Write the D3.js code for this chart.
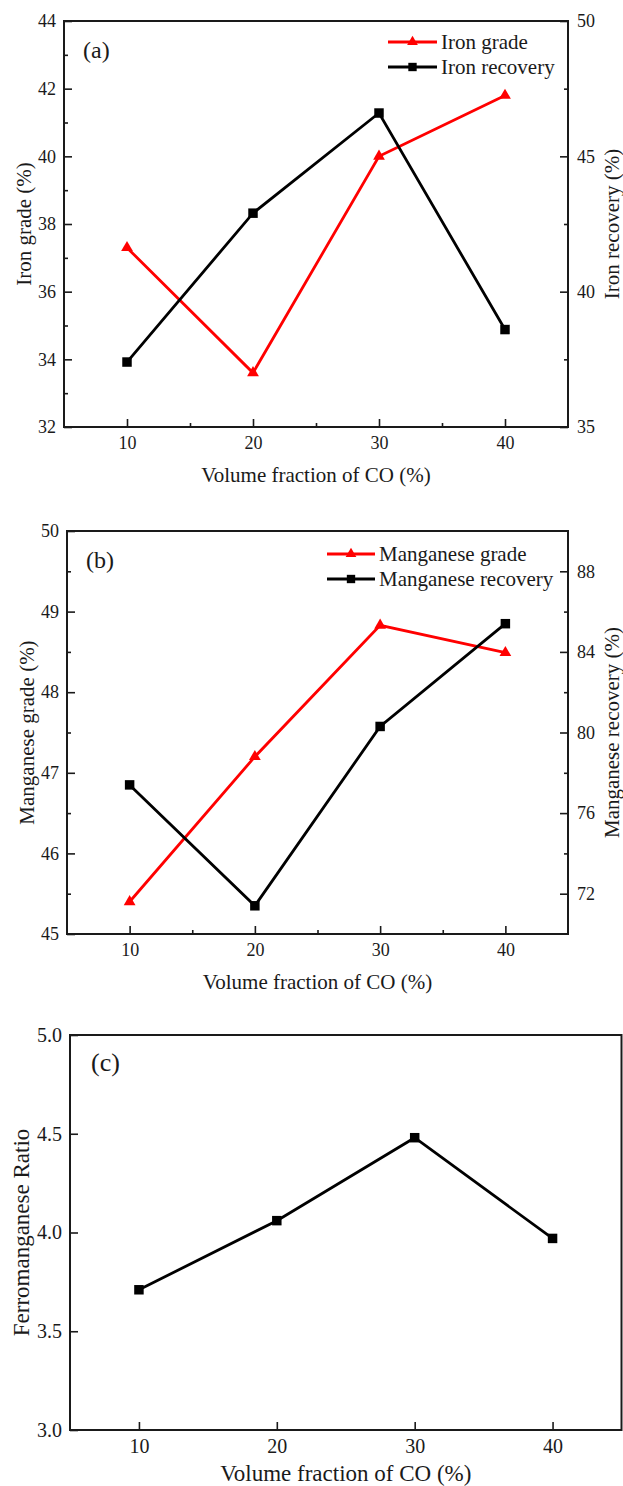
<!DOCTYPE html>
<html>
<head>
<meta charset="utf-8">
<script src="https://cdn.jsdelivr.net/npm/d3@7"></script>
<style>
  html, body { margin: 0; padding: 0; background: #fff; }
  svg { display: block; }
  text { font-family: "Liberation Serif", "Times New Roman", serif; fill: #1a1a1a; }
</style>
</head>
<body>
<script>
// CO volume fraction (x) shared by all three panels
const coFraction = [10, 20, 30, 40];

// (a) iron
const ironGrade = [37.3, 33.6, 40.0, 41.8];
const ironRecovery = [37.4, 42.9, 46.6, 38.6];

// (b) manganese
const mnGrade = [45.4, 47.2, 48.83, 48.49];
const mnRecovery = [77.4, 71.4, 80.3, 85.4];

// (c) ferromanganese ratio
const feMnRatio = [3.71, 4.06, 4.48, 3.97];

// tick values
const xTicks = [10, 20, 30, 40];
const xMinorTicks = [15, 25, 35];
const ironGradeTicks = [32, 34, 36, 38, 40, 42, 44];
const ironGradeMinor = [33, 35, 37, 39, 41, 43];
const ironRecTicks = [35, 40, 45, 50];
const ironRecMinor = [37.5, 42.5, 47.5];
const mnGradeTicks = [45, 46, 47, 48, 49, 50];
const mnGradeMinor = [45.5, 46.5, 47.5, 48.5, 49.5];
const mnRecTicks = [72, 76, 80, 84, 88];
const mnRecMinor = [74, 78, 82, 86];
const ratioTicks = [3.0, 3.5, 4.0, 4.5, 5.0];

const W = 623, H = 1486;
const RED = "#ff0000", BLACK = "#000000";

const svg = d3.select("body").append("svg").attr("width", W).attr("height", H);

function drawPanel(cfg) {
  const { left, right, top, bottom } = cfg.box;
  const g = svg.append("g");
  const x = d3.scaleLinear().domain([5, 45]).range([left, right]);
  const yL = d3.scaleLinear().domain(cfg.yLeft.domain).range([bottom, top]);
  const yR = cfg.yRight ? d3.scaleLinear().domain(cfg.yRight.domain).range([bottom, top]) : null;
  const fs = cfg.tickFont;

  function styleAxis(sel) {
    sel.select(".domain").remove();
    sel.selectAll(".tick line").attr("stroke", "#1a1a1a").attr("stroke-width", 1.6);
    sel.selectAll(".tick text").style("font-size", fs + "px").attr("fill", "#1a1a1a")
      .style("font-family", '"Liberation Serif", "Times New Roman", serif');
  }

  // bottom axis (inward ticks)
  g.append("g").attr("transform", `translate(0,${bottom})`)
    .call(d3.axisBottom(x).tickValues(xTicks).tickSize(-8).tickPadding(cfg.xPad).tickFormat(d3.format("d")))
    .call(styleAxis);
  if (cfg.xMinor) {
    g.append("g").attr("transform", `translate(0,${bottom})`)
      .call(d3.axisBottom(x).tickValues(xMinorTicks).tickSize(-4).tickFormat(""))
      .call(styleAxis);
  }

  // left axis
  g.append("g").attr("transform", `translate(${left},0)`)
    .call(d3.axisLeft(yL).tickValues(cfg.yLeft.ticks).tickSize(-8).tickPadding(8).tickFormat(cfg.yLeft.format))
    .call(styleAxis);
  if (cfg.yLeft.minor) {
    g.append("g").attr("transform", `translate(${left},0)`)
      .call(d3.axisLeft(yL).tickValues(cfg.yLeft.minor).tickSize(-4).tickFormat(""))
      .call(styleAxis);
  }

  // right axis
  if (yR) {
    g.append("g").attr("transform", `translate(${right},0)`)
      .call(d3.axisRight(yR).tickValues(cfg.yRight.ticks).tickSize(-8).tickPadding(9).tickFormat(d3.format("d")))
      .call(styleAxis);
    g.append("g").attr("transform", `translate(${right},0)`)
      .call(d3.axisRight(yR).tickValues(cfg.yRight.minor).tickSize(-4).tickFormat(""))
      .call(styleAxis);
  }

  // frame
  g.append("rect").attr("x", left).attr("y", top)
    .attr("width", right - left).attr("height", bottom - top)
    .attr("fill", "none").attr("stroke", "#1a1a1a").attr("stroke-width", 2);

  // series
  cfg.series.forEach(s => {
    const yS = s.axis === "right" ? yR : yL;
    const pts = coFraction.map((c, i) => [x(c), yS(s.values[i])]);
    g.append("path").datum(pts)
      .attr("d", d3.line())
      .attr("fill", "none").attr("stroke", s.color).attr("stroke-width", 2.8)
      .attr("stroke-linejoin", "miter");
    g.selectAll(null).data(pts).join("path")
      .attr("transform", d => `translate(${d[0]},${d[1]})`)
      .attr("d", d3.symbol(s.shape === "triangle" ? d3.symbolTriangle : d3.symbolSquare,
                           s.shape === "triangle" ? 60 : 90)())
      .attr("fill", s.color);
  });

  // axis titles
  const tf = cfg.titleFont;
  g.append("text").attr("x", (left + right) / 2).attr("y", bottom + cfg.xTitleOffset)
    .attr("text-anchor", "middle").attr("dy", "0.35em")
    .style("font-size", tf + "px").text("Volume fraction of CO (%)");
  g.append("text")
    .attr("transform", `translate(${cfg.leftTitleX},${(top + bottom) / 2}) rotate(-90)`)
    .attr("text-anchor", "middle").attr("dy", "0.35em")
    .style("font-size", tf + "px").text(cfg.yLeft.title);
  if (yR) {
    g.append("text")
      .attr("transform", `translate(${cfg.rightTitleX},${(top + bottom) / 2}) rotate(-90)`)
      .attr("text-anchor", "middle").attr("dy", "0.35em")
      .style("font-size", tf + "px").text(cfg.yRight.title);
  }

  // panel tag
  g.append("text").attr("x", cfg.tag.x).attr("y", cfg.tag.y).attr("dy", "0.35em")
    .style("font-size", cfg.tag.size + "px").text(cfg.tag.text);

  // legend
  if (cfg.legend) {
    const L = cfg.legend;
    cfg.series.forEach((s, i) => {
      const ly = L.y + i * L.step;
      g.append("line").attr("x1", L.x1).attr("x2", L.x2).attr("y1", ly).attr("y2", ly)
        .attr("stroke", s.color).attr("stroke-width", 2.8);
      g.append("path")
        .attr("transform", `translate(${(L.x1 + L.x2) / 2},${ly})`)
        .attr("d", d3.symbol(s.shape === "triangle" ? d3.symbolTriangle : d3.symbolSquare,
                             s.shape === "triangle" ? 50 : 70)())
        .attr("fill", s.color);
      g.append("text").attr("x", L.x2 + 4).attr("y", ly).attr("dy", "0.33em")
        .style("font-size", tf + "px").text(s.name);
    });
  }
}

// (a) iron grade and recovery
drawPanel({
  box: { left: 64, right: 568, top: 21, bottom: 427 },
  tickFont: 18, titleFont: 21, xPad: 9, xTitleOffset: 48, xMinor: true,
  leftTitleX: 24, rightTitleX: 612,
  yLeft: { domain: [32, 44], ticks: ironGradeTicks, minor: ironGradeMinor, format: d3.format("d"), title: "Iron grade (%)" },
  yRight: { domain: [35, 50], ticks: ironRecTicks, minor: ironRecMinor, title: "Iron recovery (%)" },
  series: [
    { name: "Iron grade", values: ironGrade, color: RED, shape: "triangle", axis: "left" },
    { name: "Iron recovery", values: ironRecovery, color: BLACK, shape: "square", axis: "right" }
  ],
  legend: { x1: 388, x2: 437, y: 42, step: 25 },
  tag: { text: "(a)", x: 83, y: 50, size: 24 }
});

// (b) manganese grade and recovery
drawPanel({
  box: { left: 67, right: 568, top: 531, bottom: 934 },
  tickFont: 18, titleFont: 21, xPad: 9, xTitleOffset: 48, xMinor: true,
  leftTitleX: 27, rightTitleX: 612,
  yLeft: { domain: [45, 50], ticks: mnGradeTicks, minor: mnGradeMinor, format: d3.format("d"), title: "Manganese grade (%)" },
  yRight: { domain: [70, 90], ticks: mnRecTicks, minor: mnRecMinor, title: "Manganese recovery (%)" },
  series: [
    { name: "Manganese grade", values: mnGrade, color: RED, shape: "triangle", axis: "left" },
    { name: "Manganese recovery", values: mnRecovery, color: BLACK, shape: "square", axis: "right" }
  ],
  legend: { x1: 327, x2: 375, y: 554, step: 25 },
  tag: { text: "(b)", x: 86, y: 560, size: 24 }
});

// (c) ferromanganese ratio
drawPanel({
  box: { left: 70, right: 621.5, top: 1035, bottom: 1430 },
  tickFont: 20, titleFont: 23, xPad: 9, xTitleOffset: 43, xMinor: false,
  leftTitleX: 21,
  yLeft: { domain: [3, 5], ticks: ratioTicks, minor: null, format: d3.format(".1f"), title: "Ferromanganese Ratio" },
  yRight: null,
  series: [
    { name: "Ferromanganese ratio", values: feMnRatio, color: BLACK, shape: "square", axis: "left" }
  ],
  legend: null,
  tag: { text: "(c)", x: 91, y: 1062, size: 26 }
});
</script>
</body>
</html>
